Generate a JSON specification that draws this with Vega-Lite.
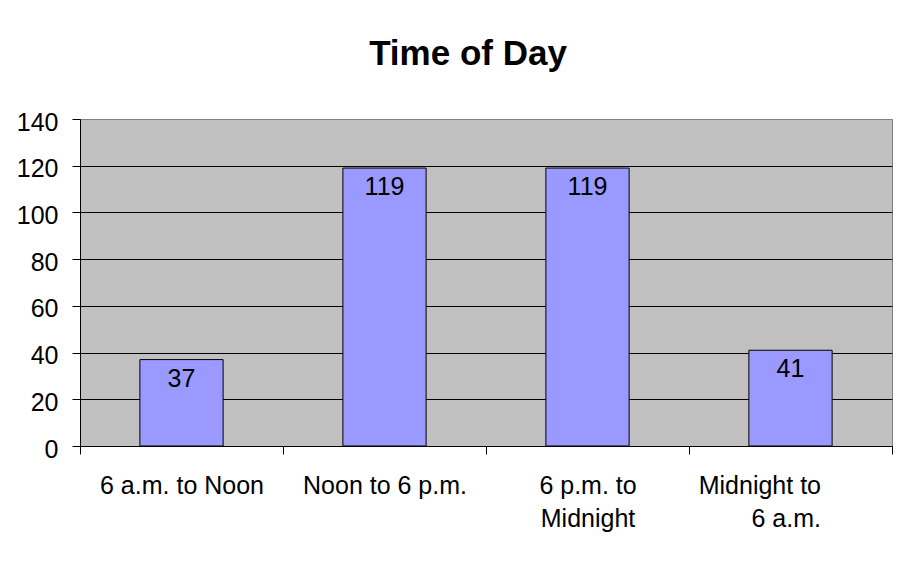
{
  "$schema": "https://vega.github.io/schema/vega-lite/v6.json",
  "autosize": {"type": "none"},
  "width": 812,
  "height": 327,
  "padding": {"left": 80, "top": 119, "right": 23, "bottom": 117},
  "background": "white",
  "title": {
    "text": "Time of Day",
    "font": "Liberation Sans",
    "fontSize": 35,
    "fontWeight": "bold",
    "color": "black",
    "anchor": "middle",
    "dx": -18,
    "offset": 38
  },
  "config": {
    "font": "Liberation Sans",
    "view": {"fill": "#C0C0C0", "stroke": "#808080", "strokeWidth": 1}
  },
  "data": {
    "values": [
      {"period": "6 a.m. to Noon", "count": 37},
      {"period": "Noon to 6 p.m.", "count": 119},
      {"period": "6 p.m. to Midnight", "count": 119},
      {"period": "Midnight to 6 a.m.", "count": 41}
    ]
  },
  "encoding": {
    "x": {
      "field": "period",
      "type": "nominal",
      "sort": null,
      "scale": {"paddingInner": 0, "paddingOuter": 0},
      "axis": {
        "title": null,
        "labelAngle": 0,
        "labelFont": "Liberation Sans",
        "labelFontSize": 25,
        "labelColor": "black",
        "labelLimit": 300,
        "labelPadding": 19,
        "labelLineHeight": 33,
        "labelExpr": "datum.value == '6 p.m. to Midnight' ? ['6 p.m. to', 'Midnight'] : datum.value == 'Midnight to 6 a.m.' ? ['Midnight to', '6 a.m.'] : datum.value",
        "labelAlign": {"condition": {"test": "datum.value == 'Midnight to 6 a.m.'", "value": "right"}, "value": "center"},
        "labelOffset": {"condition": {"test": "datum.value == 'Midnight to 6 a.m.'", "value": 30}, "value": 0},
        "tickBand": "extent",
        "tickSize": 8,
        "tickColor": "black",
        "domainColor": "black",
        "grid": false
      }
    },
    "y": {
      "field": "count",
      "type": "quantitative",
      "scale": {"domain": [0, 140], "nice": false},
      "axis": {
        "title": null,
        "values": [0, 20, 40, 60, 80, 100, 120, 140],
        "labelFont": "Liberation Sans",
        "labelFontSize": 25,
        "labelColor": "black",
        "labelPadding": 14,
        "labelOffset": 3,
        "tickSize": 8,
        "tickColor": "black",
        "domainColor": "black",
        "grid": true,
        "gridColor": {"condition": {"test": "datum.value == 140", "value": "#808080"}, "value": "black"},
        "gridOpacity": 1,
        "gridWidth": 1
      }
    }
  },
  "layer": [
    {
      "mark": {"type": "bar", "width": {"band": 0.41}, "fill": "#9999FF", "stroke": "black", "strokeWidth": 1}
    },
    {
      "mark": {"type": "text", "baseline": "alphabetic", "dy": 27, "fontSize": 25, "font": "Liberation Sans", "color": "black"},
      "encoding": {"text": {"field": "count", "type": "quantitative"}}
    }
  ]
}
